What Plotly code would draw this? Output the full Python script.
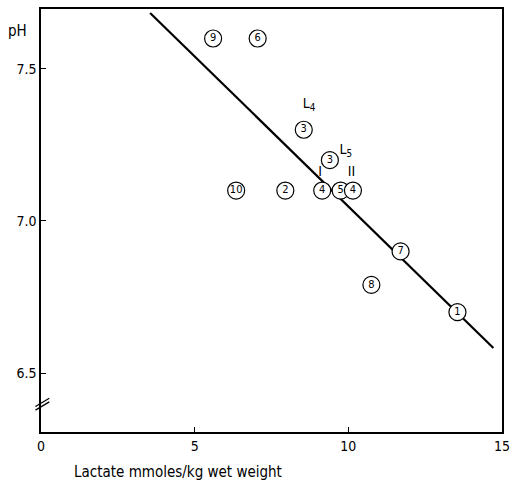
import plotly.graph_objects as go

# Data
lactate = [5.6, 7.05, 8.55, 9.4, 6.35, 7.95, 9.15, 9.75, 10.15, 11.7, 10.75, 13.55]
ph = [7.6, 7.6, 7.3, 7.2, 7.1, 7.1, 7.1, 7.1, 7.1, 6.9, 6.79, 6.7]
labels = ["9", "6", "3", "3", "10", "2", "4", "5", "4", "7", "8", "1"]

line_x = [3.55, 14.72]
line_y = [7.684, 6.582]

notes = ["L<sub>4</sub>", "L<sub>5</sub>", "I", "II"]
note_x = [8.72, 9.92, 9.08, 10.1]
note_y = [7.383, 7.233, 7.158, 7.158]

xticks = [0, 5, 10, 15]
yticks = [6.5, 7.0, 7.5]
ytick_text = ["6.5", "7.0", "7.5"]

FONT = "DejaVu Sans Condensed, Liberation Sans Narrow, Arial Narrow, sans-serif"

fig = go.Figure()
fig.add_trace(go.Scatter(x=line_x, y=line_y, mode="lines",
                         line=dict(color="black", width=2.2), hoverinfo="skip"))
fig.add_trace(go.Scatter(
    x=lactate, y=ph, mode="markers+text", text=labels,
    textposition="middle center",
    textfont=dict(family=FONT, size=11, color="black"),
    marker=dict(symbol="circle", size=17, color="white",
                line=dict(color="black", width=1.2)),
))
fig.add_trace(go.Scatter(
    x=note_x, y=note_y, mode="text", text=notes,
    textposition="middle center",
    textfont=dict(family=FONT, size=14, color="black"),
))

# axis break marks
for dy in (0.0, 0.012):
    fig.add_shape(type="line", xref="paper", yref="y",
                  x0=-0.012, x1=0.018, y0=6.378 + dy, y1=6.405 + dy,
                  line=dict(color="black", width=1.3))

fig.add_annotation(text="pH", xref="paper", yref="paper", x=-0.052, y=0.947,
                   showarrow=False, font=dict(family=FONT, size=15, color="black"),
                   xanchor="center", yanchor="middle")
fig.add_annotation(text="Lactate mmoles/kg wet weight", xref="paper", yref="paper",
                   x=0.068, y=-0.068, showarrow=False, xanchor="left", yanchor="top",
                   font=dict(family=FONT, size=15, color="black"))

axis_common = dict(showgrid=False, zeroline=False, showline=True, linecolor="black",
                   linewidth=1.5, mirror=True, ticks="inside", ticklen=5,
                   tickcolor="black", automargin=False,
                   tickfont=dict(family=FONT, size=14, color="black"))
fig.update_xaxes(range=[0, 15], tickvals=xticks, **axis_common)
fig.update_yaxes(range=[6.306, 7.697], tickvals=yticks, ticktext=ytick_text, **axis_common)

fig.update_layout(width=517, height=490, showlegend=False,
                  plot_bgcolor="white", paper_bgcolor="white",
                  margin=dict(l=41, r=15, t=9, b=58))
fig.write_html("out.html", config={"displayModeBar": False},
               post_script="document.body.style.margin='0';document.body.style.overflow='hidden';")
